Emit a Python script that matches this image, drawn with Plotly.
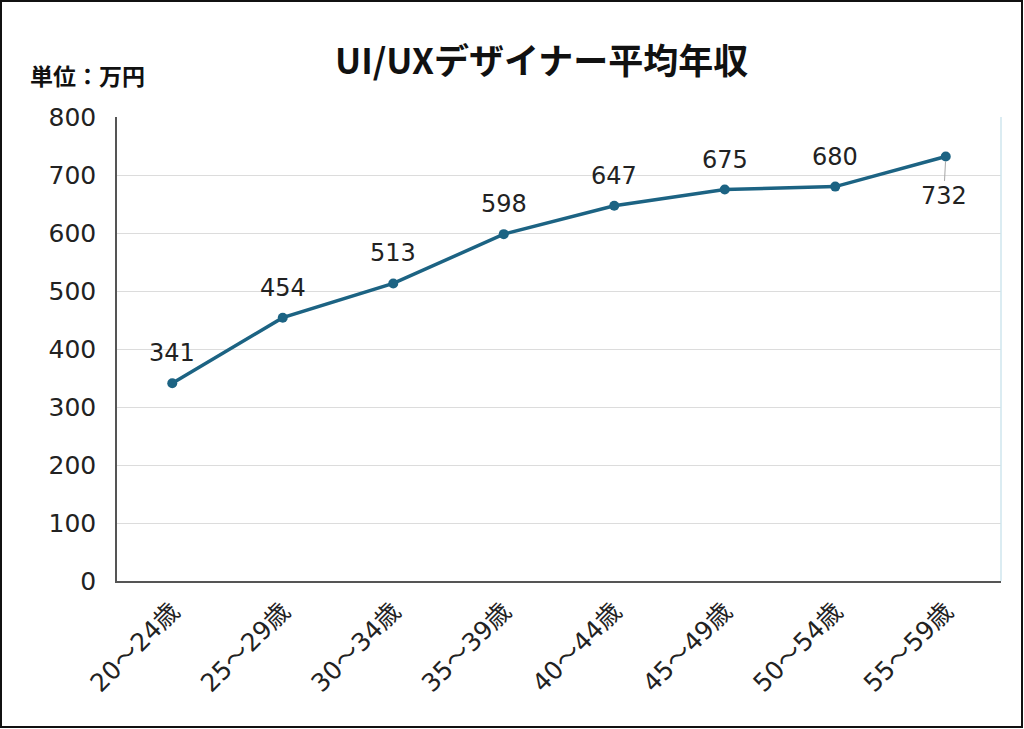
import plotly.graph_objects as go

# 年代別の平均年収（万円）
age_groups = ['20〜24歳', '25〜29歳', '30〜34歳', '35〜39歳',
              '40〜44歳', '45〜49歳', '50〜54歳', '55〜59歳']
salary = [341, 454, 513, 598, 647, 675, 680, 732]
y_ticks = [0, 100, 200, 300, 400, 500, 600, 700, 800]

FONT = 'DejaVu Sans, Noto Sans CJK JP'
JP_FONT = 'Noto Sans CJK JP'
LINE_COLOR = '#1c6383'

fig = go.Figure()
fig.add_trace(go.Scatter(
    x=age_groups, y=salary, mode='lines+markers',
    line=dict(color=LINE_COLOR, width=3.5),
    marker=dict(color=LINE_COLOR, size=10),
    hoverinfo='x+y', showlegend=False,
))

# データラベル（最後だけ下側に引き出し線付き）
annotations = []
for i, (cat, val) in enumerate(zip(age_groups, salary)):
    if i == len(salary) - 1:
        annotations.append(dict(
            x=cat, y=val, text=str(val), showarrow=True,
            ax=-2, ay=40, arrowhead=0, arrowwidth=1, arrowcolor='#a6a6a6',
            standoff=5, font=dict(size=24, color='#222', family=FONT)))
    else:
        annotations.append(dict(
            x=cat, y=val, text=str(val), showarrow=False, yshift=30,
            font=dict(size=24, color='#222', family=FONT)))

annotations.append(dict(
    text='単位：万円', xref='paper', yref='paper', x=-0.101, y=(581 - 75) / 464,
    xanchor='left', yanchor='middle', showarrow=False,
    font=dict(size=23, color='#111', family=JP_FONT, weight='bold')))

# 図全体の外枠と、プロット右端の薄い線
pw, ph = 884, 464
shapes = [
    dict(type='rect', xref='paper', yref='paper',
         x0=(1 - 117) / pw, x1=(1022 - 117) / pw,
         y0=(581 - 727) / ph, y1=(581 - 1) / ph,
         line=dict(color='#111', width=2), fillcolor='rgba(0,0,0,0)'),
    dict(type='line', xref='paper', yref='paper', x0=1, x1=1, y0=0, y1=1,
         line=dict(color='#cfe6ee', width=1.5)),
]

fig.update_layout(
    title=dict(text='<b>UI/UXデザイナー平均年収</b>', x=0.529, xanchor='center',
               y=1 - 62 / 729, yanchor='middle',
               font=dict(size=35, color='#111', family=JP_FONT)),
    width=1024, height=729,
    margin=dict(l=117, r=23, t=117, b=148),
    paper_bgcolor='white', plot_bgcolor='white',
    font=dict(family=FONT, color='#222'),
    annotations=annotations, shapes=shapes,
    xaxis=dict(type='category', range=[-0.5, 7.5], tickangle=-45,
               tickfont=dict(size=25, color='#222'),
               showline=True, linecolor='#555', linewidth=1.5,
               showgrid=False, ticks='', ticklabelstandoff=4, fixedrange=True),
    yaxis=dict(range=[0, 800], tickvals=y_ticks,
               tickfont=dict(size=25, color='#222'),
               showline=True, linecolor='#555', linewidth=1.5,
               gridcolor='#dcdcdc', gridwidth=1, zeroline=False,
               ticks='', ticklabelstandoff=14, fixedrange=True),
)

fig.write_html('out.html', config={'displayModeBar': False},
               post_script="document.body.style.margin='0';")
